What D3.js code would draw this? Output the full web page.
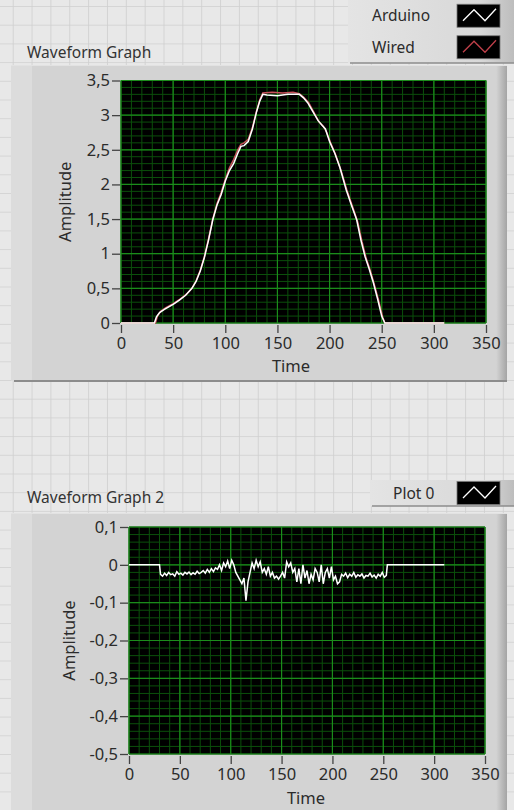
<!DOCTYPE html>
<html>
<head>
<meta charset="utf-8">
<script src="https://cdn.jsdelivr.net/npm/d3@7"></script>
<style>
  body { margin: 0; padding: 0; background: #e6e6e6; }
  svg { display: block; font-family: "Noto Sans", "Open Sans", sans-serif; }
</style>
</head>
<body>
<div id="chart"></div>
<script>
// ---- data ----
// Waveform Graph: [time, amplitude]
var arduino = [[0,0],[32,0],[34,0.09],[37,0.15],[42,0.2],[50,0.27],[56,0.33],[62,0.4],[68,0.5],[72,0.6],[76,0.75],[80,0.95],[84,1.2],[88,1.49],[92,1.7],[96,1.85],[100,2.05],[104,2.2],[108,2.3],[112,2.45],[115,2.55],[118,2.56],[122,2.62],[126,2.8],[130,3.05],[133,3.2],[136,3.3],[140,3.29],[150,3.28],[160,3.3],[171,3.3],[175,3.25],[179,3.18],[184,3.05],[189,2.92],[193,2.85],[196,2.8],[200,2.62],[205,2.45],[210,2.24],[216,1.92],[221,1.7],[226,1.49],[230,1.2],[234,0.96],[238,0.78],[242,0.58],[246,0.35],[250,0.1],[253,0],[310,0]]
var wired = [[0,0],[33,0],[35,0.1],[38,0.17],[43,0.22],[50,0.28],[57,0.35],[63,0.42],[68,0.5],[72,0.61],[76,0.76],[80,0.96],[84,1.22],[88,1.5],[92,1.72],[96,1.88],[100,2.07],[104,2.24],[108,2.36],[112,2.5],[115,2.58],[118,2.6],[122,2.65],[126,2.82],[130,3.06],[133,3.22],[136,3.32],[145,3.33],[155,3.32],[165,3.33],[171,3.31],[175,3.26],[180,3.18],[185,3.04],[190,2.9],[194,2.84],[197,2.76],[201,2.6],[206,2.42],[211,2.2],[217,1.9],[222,1.68],[227,1.46],[231,1.18],[235,0.94],[239,0.76],[243,0.55],[247,0.33],[251,0.08],[253,0],[310,0]]

// Waveform Graph 2: flat parts and the difference samples (t0, dt)
var diffBefore = [[0,0],[30,0]]
var diffAfter = [[254,0],[310,0]]
var diffT0 = 31, diffDt = 2
var diffNoise = [-0.025,-0.03,-0.022,-0.028,-0.02,-0.026,-0.024,-0.03,-0.018,-0.025,-0.022,-0.027,-0.02,-0.024,-0.019,-0.026,-0.021,-0.025,-0.017,-0.023,-0.02,-0.015,-0.022,-0.012,-0.02,-0.01,-0.018,-0.008,
  -0.012,0.0,-0.015,0.005,-0.005,0.01,-0.01,0.012,0.0,-0.02,-0.03,
  -0.04,-0.05,-0.035,-0.095,-0.045,-0.02,
  0.005,-0.01,0.012,-0.005,0.008,-0.02,
  -0.01,-0.025,-0.005,-0.03,-0.02,-0.035,-0.03,-0.038,-0.03,-0.02,-0.035,
  0.008,-0.005,0.005,-0.02,-0.01,-0.045,
  -0.01,-0.05,0.0,-0.035,-0.015,-0.05,-0.025,-0.04,-0.01,-0.02,-0.045,
  0.0,-0.05,-0.02,-0.01,-0.035,-0.005,-0.04,-0.03,-0.05,-0.045,-0.025,
  -0.03,-0.022,-0.034,-0.025,-0.03,-0.02,-0.033,-0.026,-0.03,-0.024,-0.035,-0.028,-0.03,-0.022,-0.032,-0.027,-0.035,-0.025,-0.03,-0.02,-0.033,-0.028]

var timeTicks = [0,50,100,150,200,250,300,350]
var ampTicks1 = [0,0.5,1,1.5,2,2.5,3,3.5]
var ampTicks2 = [0.1,0,-0.1,-0.2,-0.3,-0.4,-0.5]
var legend1 = ["Arduino", "Wired"]
var legend2 = ["Plot 0"]

var W = 514, H = 810
var locale = d3.formatLocale({decimal: ",", thousands: ".", grouping: [3], minus: "-"})
var fmt = locale.format("~g")

var svg = d3.select("#chart").append("svg")
    .attr("width", W)
    .attr("height", H)

var defs = svg.append("defs")

// front panel grid pattern
var pat = defs.append("pattern")
    .attr("id", "panelgrid")
    .attr("patternUnits", "userSpaceOnUse")
    .attr("x", 12.7).attr("y", 6)
    .attr("width", 18.85).attr("height", 18.7)
pat.append("rect").attr("width", 18.85).attr("height", 18.7).attr("fill", "#e8e8e8")
pat.append("path").attr("d", "M0,0H18.85M0,0V18.7").attr("stroke", "#cfcfcf").attr("stroke-width", 1.6)

var edge = defs.append("linearGradient").attr("id", "rightedge")
edge.append("stop").attr("offset", "0%").attr("stop-color", "#d4d4d4")
edge.append("stop").attr("offset", "100%").attr("stop-color", "#a4a4a4")

var legGrad = defs.append("linearGradient").attr("id", "leggrad")
legGrad.append("stop").attr("offset", "0%").attr("stop-color", "#e4e4e4")
legGrad.append("stop").attr("offset", "80%").attr("stop-color", "#d8d8d8")
legGrad.append("stop").attr("offset", "100%").attr("stop-color", "#bdbdbd")

svg.append("rect").attr("width", W).attr("height", H).attr("fill", "url(#panelgrid)")

function panel(y0, y1) {
    svg.append("rect").attr("x", 11).attr("y", y0).attr("width", 496).attr("height", y1 - y0).attr("fill", "#d3d3d3")
    svg.append("rect").attr("x", 11).attr("y", y0).attr("width", 21).attr("height", y1 - y0).attr("fill", "#dcdcdc")
    svg.append("rect").attr("x", 496).attr("y", y0).attr("width", 11).attr("height", y1 - y0).attr("fill", "url(#rightedge)")
    svg.append("line").attr("x1", 11).attr("x2", 507).attr("y1", y0 + 0.5).attr("y2", y0 + 0.5).attr("stroke", "#e2e2e2")
}

function legend(x0, y0, h, names, colors) {
    svg.append("rect").attr("x", x0).attr("y", y0).attr("width", W - x0).attr("height", h).attr("fill", "url(#leggrad)")
    svg.append("line").attr("x1", x0 + 2).attr("x2", W).attr("y1", y0 + h).attr("y2", y0 + h)
        .attr("stroke", "#8c8c8c").attr("stroke-width", 1.5)
    var rowH = h / names.length
    names.forEach(function(n, i) {
        var cy = y0 + rowH * i + rowH / 2
        svg.append("text").attr("x", x0 + (names.length > 1 ? 24 : 23)).attr("y", cy + 5.5)
            .style("font-size", "15.5px").attr("fill", "#2b2b2b").text(n)
        svg.append("rect").attr("x", 457).attr("y", cy - 11.5).attr("width", 43).attr("height", 23)
            .attr("fill", "#000").attr("stroke", "#777").attr("stroke-width", 0.8)
        svg.append("path").attr("d", `M463,${cy + 5}L474,${cy - 6}L485,${cy + 5}L496,${cy - 7}`)
            .attr("fill", "none").attr("stroke", colors[i]).attr("stroke-width", 1.3)
    })
}

function graph(opt) {
    var x = d3.scaleLinear().domain([0, 350]).range([opt.left, opt.right])
    var y = d3.scaleLinear().domain(opt.ydom).range([opt.bottom, opt.top])

    var g = svg.append("g")
    g.append("rect").attr("x", opt.left).attr("y", opt.top)
        .attr("width", opt.right - opt.left).attr("height", opt.bottom - opt.top).attr("fill", "#000")

    // minor grid
    var xMinor = d3.range(0, 351, 10)
    var yMinor = d3.range(0, Math.round((opt.ydom[1] - opt.ydom[0]) / opt.ystep) + 1).map(function(i) { return opt.ydom[0] + i * opt.ystep })
    g.selectAll(".vmin").data(xMinor).join("line")
        .attr("x1", d => x(d)).attr("x2", d => x(d)).attr("y1", opt.top).attr("y2", opt.bottom)
        .attr("stroke", "#0b4f0b").attr("stroke-width", 1)
    g.selectAll(".hmin").data(yMinor).join("line")
        .attr("y1", d => y(d)).attr("y2", d => y(d)).attr("x1", opt.left).attr("x2", opt.right)
        .attr("stroke", "#0b4f0b").attr("stroke-width", 1)
    // major grid
    g.selectAll(".vmaj").data(timeTicks).join("line")
        .attr("x1", d => x(d)).attr("x2", d => x(d)).attr("y1", opt.top).attr("y2", opt.bottom)
        .attr("stroke", "#1b8c1b").attr("stroke-width", 1.2)
    g.selectAll(".hmaj").data(opt.yticks).join("line")
        .attr("y1", d => y(d)).attr("y2", d => y(d)).attr("x1", opt.left).attr("x2", opt.right)
        .attr("stroke", "#1b8c1b").attr("stroke-width", 1.2)

    var line = d3.line().x(d => x(d[0])).y(d => y(d[1]))
    opt.series.forEach(function(s) {
        g.append("path").datum(s.data).attr("d", line)
            .attr("fill", "none").attr("stroke", s.color).attr("stroke-width", 1.5)
    })

    // axes
    var xa = svg.append("g").attr("transform", `translate(0, ${opt.bottom + 2})`)
        .call(d3.axisBottom(x).tickValues(timeTicks).tickFormat(fmt).tickSize(8).tickPadding(4))
    var ya = svg.append("g").attr("transform", `translate(${opt.left - 1}, 0)`)
        .call(d3.axisLeft(y).tickValues(opt.yticks).tickFormat(fmt).tickSize(8).tickPadding(2))
    ;[xa, ya].forEach(function(a) {
        a.select(".domain").remove()
        a.selectAll(".tick line").attr("stroke", "#444").attr("stroke-width", 1.3)
        a.selectAll(".tick text").attr("fill", "#2b2b2b").style("font-size", "16.5px").style("font-family", "Noto Sans")
    })

    svg.append("text").attr("x", 27).attr("y", opt.titleY).style("font-size", "15.5px").attr("fill", "#333").text(opt.title)
    svg.append("text").attr("x", opt.timeX).attr("y", opt.timeY).attr("text-anchor", "middle")
        .style("font-size", "16.5px").attr("fill", "#2b2b2b").text("Time")
    svg.append("text").attr("transform", `translate(${opt.ampX}, ${(opt.top + opt.bottom) / 2}) rotate(-90)`)
        .attr("text-anchor", "middle").style("font-size", "16.5px").attr("fill", "#2b2b2b").text("Amplitude")
}

// top graph
panel(65, 381)
svg.append("line").attr("x1", 14).attr("x2", 507).attr("y1", 381).attr("y2", 381).attr("stroke", "#8c8c8c").attr("stroke-width", 2)
legend(348, 0, 63, legend1, ["#ffffff", "#c0404a"])
graph({
    left: 121, right: 486, top: 80.5, bottom: 323,
    ydom: [0, 3.5], ystep: 0.1, yticks: ampTicks1,
    title: "Waveform Graph", titleY: 58,
    timeX: 291, timeY: 372, ampX: 71,
    series: [{data: wired, color: "#c8505a"}, {data: arduino, color: "#ffffff"}]
})

// bottom graph
var diff = diffBefore.concat(diffNoise.map(function(v, i) { return [diffT0 + i * diffDt, v] }), diffAfter)
panel(513, 810)
legend(370, 480, 26, legend2, ["#ffffff"])
graph({
    left: 129, right: 485, top: 527, bottom: 754,
    ydom: [-0.5, 0.1], ystep: 0.02, yticks: ampTicks2,
    title: "Waveform Graph 2", titleY: 503,
    timeX: 306, timeY: 804, ampX: 75,
    series: [{data: diff, color: "#ffffff"}]
})
</script>
</body>
</html>
